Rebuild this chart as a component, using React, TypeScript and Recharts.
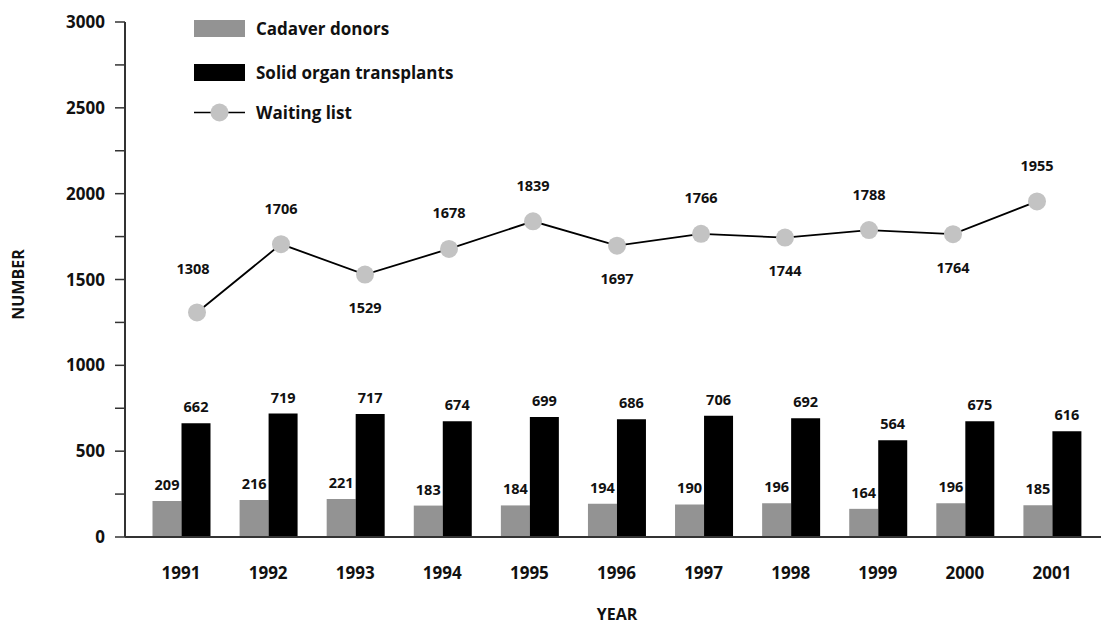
import React from 'react';
import { ComposedChart, Bar, Line, XAxis, YAxis, Legend, LabelList, Label } from 'recharts';

const years = ['1991', '1992', '1993', '1994', '1995', '1996', '1997', '1998', '1999', '2000', '2001'];
const cadaverDonors = [209, 216, 221, 183, 184, 194, 190, 196, 164, 196, 185];
const solidOrganTransplants = [662, 719, 717, 674, 699, 686, 706, 692, 564, 675, 616];
const waitingList = [1308, 1706, 1529, 1678, 1839, 1697, 1766, 1744, 1788, 1764, 1955];
const waitingLabelSide = ['above', 'above', 'below', 'above', 'above', 'below', 'above', 'below', 'above', 'below', 'above'];
const yTicks = [0, 250, 500, 750, 1000, 1250, 1500, 1750, 2000, 2250, 2500, 2750, 3000];

const data = years.map((year, i) => ({
  year,
  cadaver: cadaverDonors[i],
  solid: solidOrganTransplants[i],
  waiting: waitingList[i],
}));

const FONT = '"Open Sans", sans-serif';
const GRAY = '#939393';
const DOT = '#c3c3c3';
const INK = '#111';
const AXIS = '#333';

const WaitingLabel = (props: any) => {
  const { x, y, value, index } = props;
  const above = waitingLabelSide[index] === 'above';
  const extra = index === 0 ? 8 : 0;
  return (
    <text
      x={x - (index === 0 ? 4 : 0)}
      y={above ? y - 36 - extra : y + 33}
      textAnchor="middle"
      dominantBaseline="central"
      fontFamily={FONT}
      fontWeight={700}
      fontSize={14.5}
      fill={INK}
    >
      {value}
    </text>
  );
};

const LegendContent = () => {
  const items = [
    { label: 'Cadaver donors', kind: 'rect', color: GRAY },
    { label: 'Solid organ transplants', kind: 'rect', color: '#000' },
    { label: 'Waiting list', kind: 'line', color: DOT },
  ];
  return (
    <svg width={280} height={130} style={{ display: 'block' }}>
      {items.map((it, i) => {
        const cy = 16.5 + i * 44;
        return (
          <g key={it.label}>
            {it.kind === 'rect' ? (
              <rect x={0} y={cy - 8.5} width={51} height={17} fill={it.color} />
            ) : (
              <g>
                <line x1={0} x2={51} y1={cy - 4} y2={cy - 4} stroke="#000" strokeWidth={1.6} />
                <circle cx={25.5} cy={cy - 4} r={9} fill={DOT} />
              </g>
            )}
            <text
              x={62}
              y={it.kind === 'rect' ? cy : cy - 4}
              dominantBaseline="central"
              fontFamily={FONT}
              fontWeight={700}
              fontSize={17}
              fill={INK}
            >
              {it.label}
            </text>
          </g>
        );
      })}
    </svg>
  );
};

export default function App() {
  return (
    <div style={{ position: 'fixed', left: 0, top: 0, width: 1104, height: 628, background: '#fff' }}>
      <ComposedChart
        width={1104}
        height={628}
        data={data}
        margin={{ top: 22, right: 3, bottom: 0, left: 0 }}
        barGap={0}
      >
        <XAxis
          xAxisId="bar"
          dataKey="year"
          height={91}
          padding={{ left: 12.5, right: 5.5 }}
          tickLine={false}
          tickSize={0}
          tickMargin={30}
          axisLine={{ stroke: AXIS, strokeWidth: 2 }}
          tick={{ fontFamily: FONT, fontWeight: 700, fontSize: 17, fill: INK }}
          interval={0}
        >
          <Label
            content={(p: any) => {
              const vb = p.viewBox;
              return (
                <text
                  x={vb.x + vb.width / 2 + 4}
                  y={vb.y + vb.height - 14}
                  textAnchor="middle"
                  dominantBaseline="central"
                  fontFamily={FONT}
                  fontWeight={700}
                  fontSize={16}
                  fill={INK}
                >
                  YEAR
                </text>
              );
            }}
          />
        </XAxis>
        <XAxis xAxisId="line" dataKey="year" hide padding={{ left: 30, right: 22 }} />
        <YAxis
          width={125}
          domain={[0, 3000]}
          ticks={yTicks}
          interval={0}
          tickSize={10}
          tickMargin={10}
          tickFormatter={(v: number) => (v % 500 === 0 ? String(v) : '')}
          axisLine={{ stroke: AXIS, strokeWidth: 2 }}
          tickLine={{ stroke: AXIS, strokeWidth: 1.5 }}
          tick={{ fontFamily: FONT, fontWeight: 700, fontSize: 17, fill: INK }}
        >
          <Label
            content={(p: any) => {
              const vb = p.viewBox;
              const cy = vb.y + vb.height / 2 + 5;
              return (
                <text
                  x={18}
                  y={cy}
                  transform={`rotate(-90 18 ${cy})`}
                  textAnchor="middle"
                  dominantBaseline="central"
                  fontFamily={FONT}
                  fontWeight={700}
                  fontSize={16}
                  fill={INK}
                >
                  NUMBER
                </text>
              );
            }}
          />
        </YAxis>
        <Legend
          layout="horizontal"
          verticalAlign="middle"
          align="center"
          content={LegendContent}
          wrapperStyle={{ left: 194, top: 12, width: 280, height: 130, bottom: 'auto', right: 'auto' }}
        />
        <Bar xAxisId="bar" dataKey="cadaver" name="Cadaver donors" fill={GRAY} barSize={29} isAnimationActive={false}>
          <LabelList
            dataKey="cadaver"
            position="top"
            offset={11}
            style={{ fontFamily: FONT, fontWeight: 700, fontSize: 14.5, fill: INK }}
          />
        </Bar>
        <Bar xAxisId="bar" dataKey="solid" name="Solid organ transplants" fill="#000" barSize={29} isAnimationActive={false}>
          <LabelList
            dataKey="solid"
            position="top"
            offset={11}
            style={{ fontFamily: FONT, fontWeight: 700, fontSize: 14.5, fill: INK }}
          />
        </Bar>
        <Line
          xAxisId="line"
          dataKey="waiting"
          name="Waiting list"
          stroke="#000"
          strokeWidth={1.8}
          dot={{ r: 9, fill: DOT, stroke: 'none' }}
          activeDot={false}
          isAnimationActive={false}
        >
          <LabelList dataKey="waiting" content={WaitingLabel} />
        </Line>
      </ComposedChart>
    </div>
  );
}
